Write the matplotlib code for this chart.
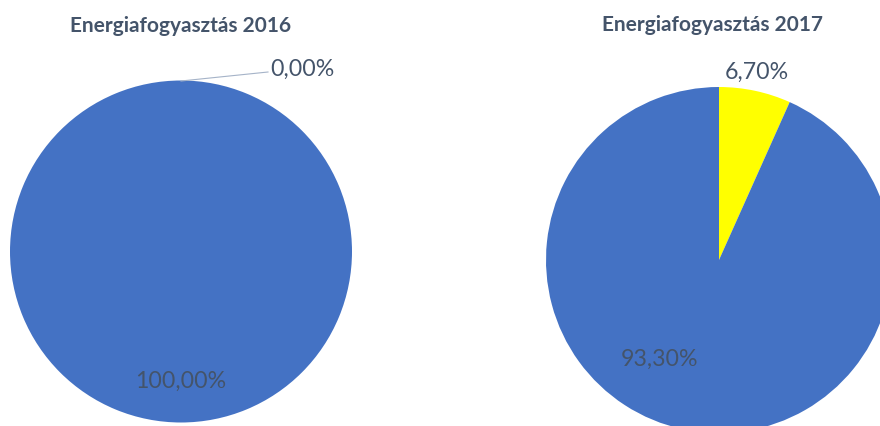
import matplotlib.pyplot as plt

# Energy consumption shares
titles = ['Energiafogyasztás 2016', 'Energiafogyasztás 2017']
share_other = [0.0, 6.7]     # yellow slice
share_main = [100.0, 93.3]   # blue slice

blue = '#4472C4'
yellow = '#FFFF00'
txt = '#44546A'

W, H = 880, 427
fig = plt.figure(figsize=(W / 100, H / 100), dpi=100)
ax = fig.add_axes([0, 0, 1, 1])

plt.rcParams['font.family'] = ['Lato', 'DejaVu Sans']


def fmt(v):
    return f'{v:.2f}%'.replace('.', ',')


# pixel layout (y measured from top)
centers = [(181, 252.5), (719, 261)]
radii = [171, 173]
title_pos = [(181, 26), (713, 25)]

for i in range(2):
    cx, cy = centers[i]
    ax.pie([share_other[i], share_main[i]], colors=[yellow, blue],
           startangle=90, counterclock=False, radius=radii[i],
           center=(cx, H - cy), wedgeprops=dict(linewidth=0))
    ax.text(title_pos[i][0], H - title_pos[i][1], titles[i], ha='center',
            va='center', fontsize=15, fontweight='bold', color=txt)

# labels
ax.plot([181, 268], [H - 82, H - 73], color='#A5B3C8', lw=0.8)
ax.text(270, H - 69, fmt(share_other[0]), ha='left', va='center',
        fontsize=16.7, color=txt)
ax.text(181, H - 381, fmt(share_main[0]), ha='center', va='center',
        fontsize=16.7, color=txt)
ax.text(757, H - 72, fmt(share_other[1]), ha='center', va='center',
        fontsize=16.7, color=txt)
ax.text(660, H - 359, fmt(share_main[1]), ha='center', va='center',
        fontsize=16.7, color=txt)

ax.set_xlim(0, W)
ax.set_ylim(0, H)
ax.set_aspect('equal')
ax.axis('off')

fig.savefig('out.png', dpi=100, facecolor='white')
